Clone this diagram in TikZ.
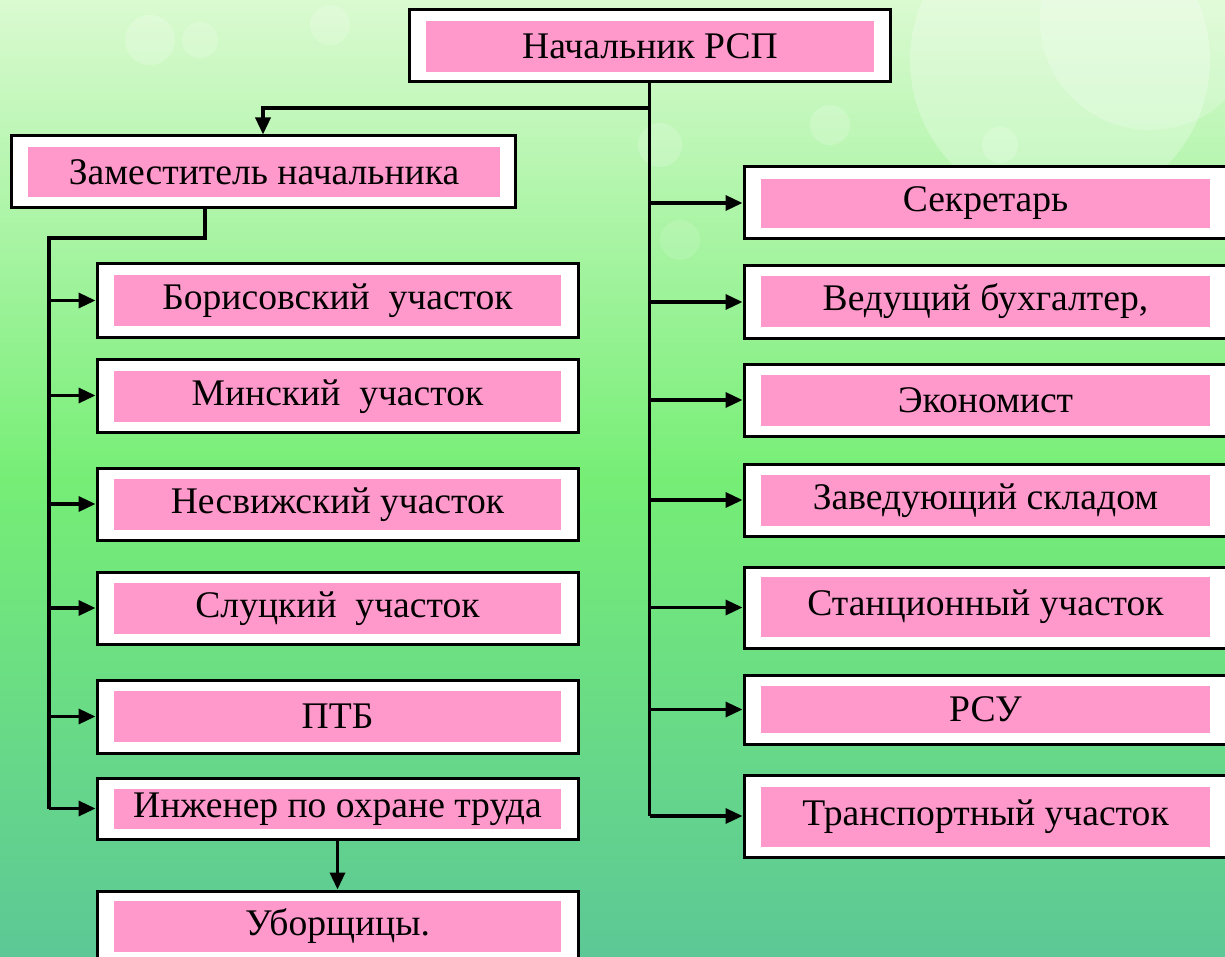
\documentclass[tikz,border=0pt]{standalone}
\usepackage{fontspec}
\setmainfont{Liberation Serif}
\usetikzlibrary{arrows.meta}
\definecolor{pinkbox}{RGB}{255,153,204}
\definecolor{bgtop}{RGB}{218,250,208}
\definecolor{bgmid}{RGB}{118,238,118}
\definecolor{bgbot}{RGB}{92,200,150}
\tikzset{
  outerbox/.style={draw=black, fill=white, line width=3pt, inner sep=0pt},
  pinkbox/.style={fill=pinkbox, inner sep=0pt, font=\fontsize{37.6}{40}\selectfont, text=black},
  conn/.style={line width=3.4pt, draw=black},
  arr/.style={conn, -{Triangle[length=17pt,width=15pt]}},
}
\begin{document}
\begin{tikzpicture}[x=1pt,y=-1pt]
\useasboundingbox (0,0) rectangle (1225,957);
\clip (0,0) rectangle (1225,957);
% background
\shade[top color=bgtop, bottom color=bgbot, middle color=bgmid] (0,0) rectangle (1225,957);
\fill[white, opacity=0.25] (1060,60) circle (150);
\fill[white, opacity=0.2] (1150,20) circle (110);
\fill[white, opacity=0.2] (150,40) circle (25);
\fill[white, opacity=0.18] (200,40) circle (18);
\fill[white, opacity=0.18] (330,25) circle (20);
\fill[white, opacity=0.18] (660,145) circle (22);
\fill[white, opacity=0.18] (830,125) circle (20);
\fill[white, opacity=0.12] (680,240) circle (20);
\fill[white, opacity=0.18] (1000,145) circle (18);

% top
\node[outerbox, minimum width=481pt, minimum height=72pt] (nach) at (649.5,46) {};
\node[pinkbox, minimum width=448pt, minimum height=51pt] (nachT) at (650,46.5) {Начальник РСП};

\node[outerbox, minimum width=504pt, minimum height=72pt] (zam) at (263,172) {};
\node[pinkbox, minimum width=472pt, minimum height=50pt] (zamT) at (264,172) {Заместитель начальника};

% left column
\node[outerbox, minimum width=481pt, minimum height=73pt] (bor) at (337.5,300.5) {};
\node[pinkbox, minimum width=447pt, minimum height=51pt] (borT) at (337.5,300.5) {Борисовский\ \ участок};
\node[outerbox, minimum width=481pt, minimum height=73pt] (min) at (337.5,395.5) {};
\node[pinkbox, minimum width=447pt, minimum height=51pt] (minT) at (337.5,396.5) {Минский\ \ участок};
\node[outerbox, minimum width=481pt, minimum height=72pt] (nes) at (337.5,504) {};
\node[pinkbox, minimum width=447pt, minimum height=51pt] (nesT) at (337.5,504.5) {Несвижский участок};
\node[outerbox, minimum width=481pt, minimum height=72pt] (slu) at (337.5,608) {};
\node[pinkbox, minimum width=447pt, minimum height=51pt] (sluT) at (337.5,608.5) {Слуцкий\ \ участок};
\node[outerbox, minimum width=481pt, minimum height=73pt] (ptb) at (337.5,716.5) {};
\node[pinkbox, minimum width=447pt, minimum height=51pt] (ptbT) at (337.5,716.5) {ПТБ};
\node[outerbox, minimum width=481pt, minimum height=61pt] (inzh) at (337.5,808.5) {};
\node[pinkbox, minimum width=447pt, minimum height=40pt] (inzhT) at (337.5,809) {Инженер по охране труда};
\node[outerbox, minimum width=481pt, minimum height=72pt] (ub) at (337.5,927) {};
\node[pinkbox, minimum width=447pt, minimum height=51pt] (ubT) at (337.5,926.5) {Уборщицы.};

% right column
\node[outerbox, minimum width=496pt, minimum height=72pt] (sek) at (992,203) {};
\node[pinkbox, minimum width=449pt, minimum height=49pt] (sekT) at (985.5,203.5) {Секретарь};
\node[outerbox, minimum width=496pt, minimum height=72pt] (ved) at (992,302) {};
\node[pinkbox, minimum width=449pt, minimum height=51pt] (vedT) at (985.5,301.5) {Ведущий бухгалтер,};
\node[outerbox, minimum width=496pt, minimum height=72pt] (eko) at (992,400) {};
\node[pinkbox, minimum width=449pt, minimum height=51pt] (ekoT) at (985.5,400.5) {Экономист};
\node[outerbox, minimum width=496pt, minimum height=72pt] (zav) at (992,500) {};
\node[pinkbox, minimum width=449pt, minimum height=51pt] (zavT) at (985.5,500.5) {Заведующий складом};
\node[outerbox, minimum width=496pt, minimum height=81pt] (sta) at (992,607.5) {};
\node[pinkbox, minimum width=449pt, minimum height=60pt] (staT) at (985.5,607) {Станционный участок};
\node[outerbox, minimum width=496pt, minimum height=69pt] (rsu) at (992,709.5) {};
\node[pinkbox, minimum width=449pt, minimum height=47pt] (rsuT) at (985.5,709.5) {РСУ};
\node[outerbox, minimum width=496pt, minimum height=82pt] (tra) at (992,816) {};
\node[pinkbox, minimum width=449pt, minimum height=60pt] (traT) at (985.5,817) {Транспортный участок};

% connectors: right trunk
\draw[conn] (nach.south) -- (nach.south |- tra.west);
\foreach \n in {sek,ved,eko,zav,sta,rsu,tra}
  \draw[arr] (nach.south |- \n.west) -- (\n.west);
\coordinate (br) at (649.5,108);
\draw[arr] (br) -| (zam.north);

% left trunk
\coordinate (zb) at (205,238);
\coordinate (lt) at (49,238);
\draw[conn] (zb |- zam.south) -- (zb) -- (lt) -- (lt |- inzh.west);
\foreach \n in {bor,min,nes,slu,ptb,inzh}
  \draw[arr] (lt |- \n.west) -- (\n.west);
\draw[arr] (inzh.south) -- (ub.north);
\end{tikzpicture}
\end{document}
